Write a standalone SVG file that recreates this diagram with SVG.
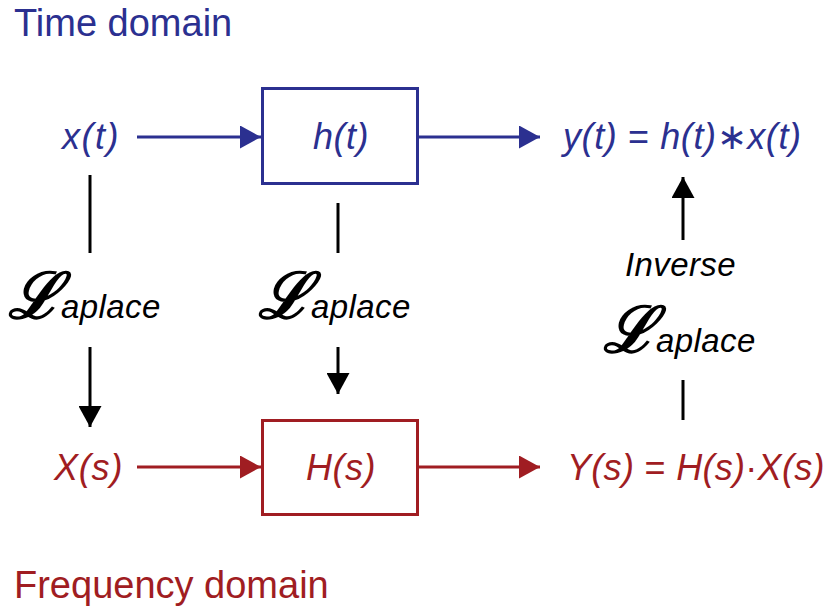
<svg xmlns="http://www.w3.org/2000/svg" width="827" height="612" viewBox="0 0 827 612">
  <style>
    .blue { fill: #2b3090; }
    .red { fill: #a01d22; }
    .math { font-family: "Liberation Sans", Arial, sans-serif; font-style: italic; font-size: 36px; }
    .up { font-style: normal; }
    .title { font-family: "Liberation Sans", Arial, sans-serif; font-size: 38px; }
    .lbl { font-family: "Liberation Sans", Arial, sans-serif; font-style: italic; font-size: 33px; fill: #000; letter-spacing: 0.4px; }
    .script { font-family: "DejaVu Serif", serif; font-style: italic; font-weight: bold; font-size: 64px; letter-spacing: 0; }
    .box-b { fill: #fff; stroke: #2b3090; stroke-width: 3; }
    .box-r { fill: #fff; stroke: #a01d22; stroke-width: 3; }
    .ln-b { stroke: #2b3090; stroke-width: 3; fill: none; }
    .ln-r { stroke: #a01d22; stroke-width: 3; fill: none; }
    .ln-k { stroke: #000; stroke-width: 3; fill: none; }
  </style>
  <defs>
    <marker id="ah-b" markerUnits="userSpaceOnUse" markerWidth="22" markerHeight="23" refX="21" refY="11.5" orient="auto">
      <path d="M0,0 L21,11.5 L0,23 z" fill="#2b3090"/>
    </marker>
    <marker id="ah-r" markerUnits="userSpaceOnUse" markerWidth="22" markerHeight="23" refX="21" refY="11.5" orient="auto">
      <path d="M0,0 L21,11.5 L0,23 z" fill="#a01d22"/>
    </marker>
    <marker id="ah-k" markerUnits="userSpaceOnUse" markerWidth="22" markerHeight="23" refX="21" refY="11.5" orient="auto">
      <path d="M0,0 L21,11.5 L0,23 z" fill="#000"/>
    </marker>
  </defs>

  <!-- domain headings -->
  <text class="title blue" x="14" y="36">Time domain</text>
  <text class="title red" x="14" y="598">Frequency domain</text>

  <!-- time-domain row -->
  <g id="x-t"><text class="math blue" x="62" y="149" letter-spacing="1.5">x(t)</text></g>
  <g id="h-t">
    <rect class="box-b" x="262.5" y="88.5" width="155" height="95"/>
    <text class="math blue" x="313" y="149" letter-spacing="0.5">h(t)</text>
  </g>
  <g id="y-t"><text class="math blue" x="563" y="149" letter-spacing="0.6">y(t) <tspan class="up">=</tspan> h(t)<tspan class="up">∗</tspan>x(t)</text></g>

  <!-- frequency-domain row -->
  <g id="X-s"><text class="math red" x="54" y="480" letter-spacing="0.8">X(s)</text></g>
  <g id="H-s">
    <rect class="box-r" x="262.5" y="420.5" width="155" height="94"/>
    <text class="math red" x="306" y="480" letter-spacing="0.5">H(s)</text>
  </g>
  <g id="Y-s"><text class="math red" x="567" y="480" letter-spacing="0.3">Y(s) <tspan class="up">=</tspan> H(s)<tspan class="up">·</tspan>X(s)</text></g>

  <!-- transform labels -->
  <g id="laplace-x"><text class="lbl" x="8" y="318"><tspan class="script">ℒ</tspan>aplace</text></g>
  <g id="laplace-h"><text class="lbl" x="258" y="318"><tspan class="script">ℒ</tspan>aplace</text></g>
  <g id="inverse-laplace">
    <text class="lbl" x="625" y="276">Inverse</text>
    <text class="lbl" x="603" y="352"><tspan class="script">ℒ</tspan>aplace</text>
  </g>

  <!-- connectors -->
  <g id="connectors">
    <line class="ln-b" x1="137" y1="137" x2="261" y2="137" marker-end="url(#ah-b)"/>
    <line class="ln-b" x1="419" y1="137" x2="540" y2="137" marker-end="url(#ah-b)"/>
    <line class="ln-r" x1="137" y1="467" x2="261" y2="467" marker-end="url(#ah-r)"/>
    <line class="ln-r" x1="419" y1="467" x2="540" y2="467" marker-end="url(#ah-r)"/>

    <line class="ln-k" x1="90" y1="175" x2="90" y2="253"/>
    <line class="ln-k" x1="90" y1="347" x2="90" y2="427" marker-end="url(#ah-k)"/>

    <line class="ln-k" x1="338" y1="203" x2="338" y2="253"/>
    <line class="ln-k" x1="338" y1="347" x2="338" y2="394" marker-end="url(#ah-k)"/>

    <line class="ln-k" x1="683" y1="380" x2="683" y2="420"/>
    <line class="ln-k" x1="683" y1="240" x2="683" y2="177" marker-end="url(#ah-k)"/>
  </g>
</svg>
